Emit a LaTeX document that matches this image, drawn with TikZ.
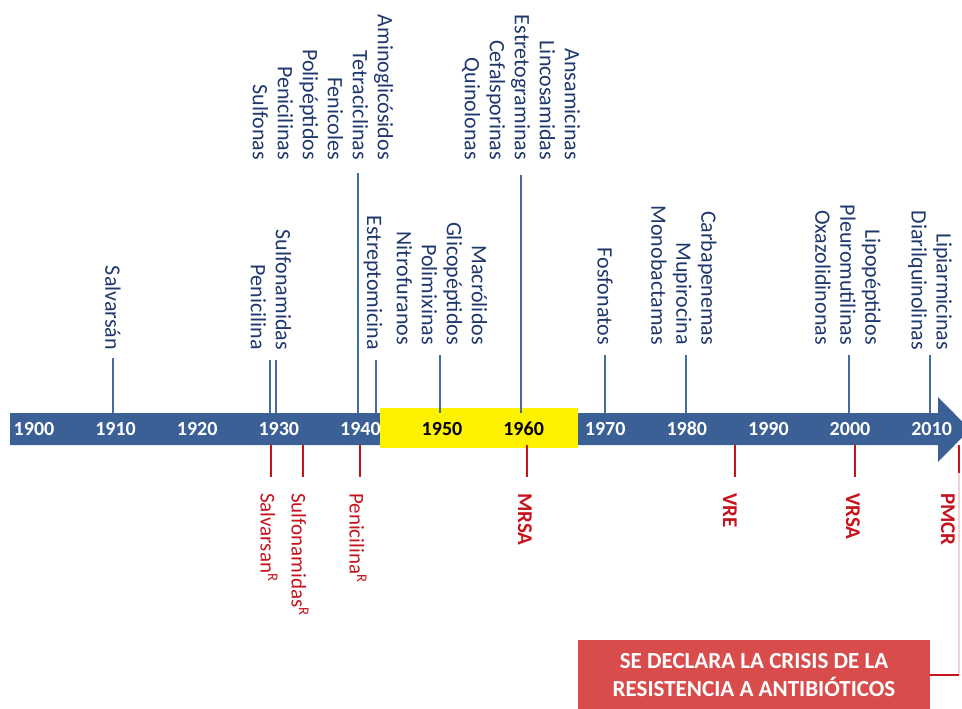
\documentclass[tikz,border=0pt]{standalone}
\usepackage{fontspec}
\setmainfont{Carlito}
\usepackage{tikz}
\definecolor{barblue}{RGB}{58,96,150}
\definecolor{tickblue}{RGB}{68,108,162}
\definecolor{txtblue}{RGB}{30,55,108}
\definecolor{resred}{RGB}{198,18,28}
\definecolor{boxred}{RGB}{217,76,76}
\tikzset{
  blab/.style={rotate=-90,anchor=east,align=right,text=txtblue,inner sep=0pt,font=\fontsize{22}{25}\selectfont},
  rlab/.style={rotate=-90,anchor=west,text=resred,inner sep=0pt,font=\fontsize{21}{25}\selectfont},
  rbold/.style={rlab,font=\fontsize{21}{25}\selectfont\bfseries},
  ylab/.style={inner sep=0pt,font=\fontsize{20}{22}\selectfont\bfseries},
  bt/.style={draw=tickblue,line width=2.4pt},
  rt/.style={draw=resred,line width=2.4pt},
  crisis/.style={rectangle,fill=boxred,text=white,align=center,inner sep=0pt,minimum width=352pt,minimum height=69pt,font=\fontsize{23}{28}\selectfont\bfseries}
}

\begin{document}
\begin{tikzpicture}[x=1pt,y=-1pt]
\useasboundingbox (0,0) rectangle (962,709);
\fill[barblue] (10,413) -- (938,413) -- (938,397) -- (970,429.5) -- (938,462) -- (938,445) -- (10,445) -- cycle;
\fill[yellow] (380,408) rectangle (578,448);
\coordinate (bartop) at (0,413);
\coordinate (barbot) at (0,445);
\foreach \yr/\c [count=\i from 0] in {1900/white,1910/white,1920/white,1930/white,1940/white,1950/black,1960/black,1970/white,1980/white,1990/white,2000/white,2010/white}
  \node[ylab,text=\c] (y\yr) at ({34+81.6*\i},429) {\yr};

\coordinate (t1910) at (113,358);
\coordinate (t1929) at (270,360);
\coordinate (t1930) at (276,360);
\coordinate (t1940) at (358,173);
\coordinate (t1942) at (376,360);
\coordinate (t1950) at (440,355);
\coordinate (t1960) at (521,175);
\coordinate (t1970) at (605,355);
\coordinate (t1980) at (686,355);
\coordinate (t2000) at (849,355);
\coordinate (t2008) at (930,355);
\foreach \t in {1910,1929,1930,1940,1942,1950,1960,1970,1980,2000,2008}
  \draw[bt] (t\t) -- (t\t |- bartop);

\node[blab] (salv) at (113,350) {Salvarsán};
\node[blab] (sulf) at (271,350) {Sulfonamidas\\Penicilina};
\node[blab] (amino) at (323,160) {Aminoglicósidos\\Tetraciclinas\\Fenicoles\\Polipéptidos\\Penicilinas\\Sulfonas};
\node[blab] (estrep) at (373,350) {Estreptomicina};
\node[blab] (macro) at (442,345) {Macrólidos\\Glicopéptidos\\Polimixinas\\Nitrofuranos};
\node[blab] (ansa) at (521,160) {Ansamicinas\\Lincosamidas\\Estretograminas\\Cefalsporinas\\Quinolonas};
\node[blab] (fosfo) at (605,345) {Fosfonatos};
\node[blab] (carba) at (684,345) {Carbapenemas\\Mupirocina\\Monobactamas};
\node[blab] (lipo) at (848,345) {Lipopéptidos\\Pleuromutilinas\\Oxazolidinonas};
\node[blab] (lipi) at (930,350) {Lipiarmicinas\\Diarilquinolinas};

\coordinate (r1930) at (271,477);
\coordinate (r1933) at (303,477);
\coordinate (r1940) at (360,477);
\coordinate (r1960) at (527,477);
\coordinate (r1986) at (735,477);
\coordinate (r2000) at (855,477);
\coordinate (r2015) at (959,473);
\foreach \r in {1930,1933,1940,1960,1986,2000,2015}
  \draw[rt] (r\r |- barbot) -- (r\r);

\node[rlab] (salvr) at (269,493) {Salvarsan\textsuperscript{R}};
\node[rlab] (sulfr) at (300,493) {Sulfonamidas\textsuperscript{R}};
\node[rlab] (penir) at (358,493) {Penicilina\textsuperscript{R}};
\node[rbold] (mrsa) at (525,493) {MRSA};
\node[rbold] (vre) at (730,493) {VRE};
\node[rbold] (vrsa) at (853,493) {VRSA};
\node[rbold] (pmcr) at (948,493) {PMCR};

\node[crisis,anchor=north] (crisis) at (754,640) {SE DECLARA LA CRISIS DE LA\\RESISTENCIA A ANTIBIÓTICOS};
\draw[resred!20,line width=1.2pt] (r2015) -- (crisis.east -| r2015);
\draw[rt] (crisis.east) -- (crisis.east -| r2015);
\end{tikzpicture}
\end{document}
